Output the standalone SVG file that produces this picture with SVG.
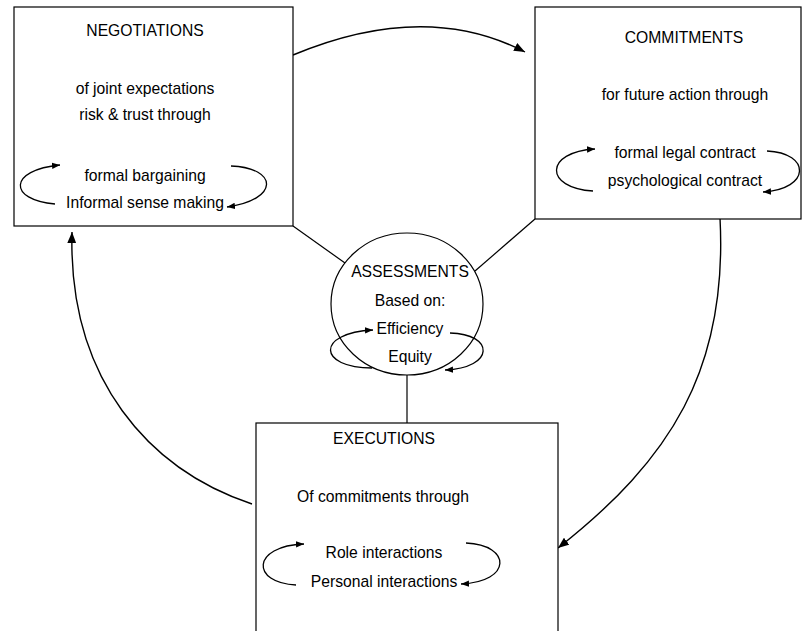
<svg xmlns="http://www.w3.org/2000/svg" width="802" height="631" viewBox="0 0 802 631">
<style>
text{font-family:"Liberation Sans",Arial,sans-serif;font-size:15.7px;fill:#000;text-anchor:middle}
.box{fill:#fff;stroke:#000;stroke-width:1.2}
.ln{fill:none;stroke:#000;stroke-width:1.2}
.big{fill:none;stroke:#000;stroke-width:1.4;marker-end:url(#ah)}
.loop{fill:none;stroke:#000;stroke-width:1.3;marker-end:url(#as)}
</style>
<defs>
<marker id="ah" viewBox="0 0 10 8" refX="10" refY="4" markerWidth="11" markerHeight="9" markerUnits="userSpaceOnUse" orient="auto"><path d="M0,0 L10,4 L0,8 z" fill="#000"/></marker>
<marker id="as" viewBox="0 0 10 8" refX="10" refY="4" markerWidth="8" markerHeight="6.5" markerUnits="userSpaceOnUse" orient="auto"><path d="M0,0 L10,4 L0,8 z" fill="#000"/></marker>
</defs>
<g id="connectors">
<path class="big" d="M293,55 Q425,0 525,52"/>
<path class="big" d="M720,218 C728,370 670,460 558,548"/>
<path class="big" d="M252,504 C150,470 68,380 72,232"/>
<line class="ln" x1="293" y1="226" x2="345" y2="263"/>
<line class="ln" x1="535" y1="219" x2="475" y2="271"/>
<line class="ln" x1="407" y1="375" x2="407" y2="423"/>
</g>
<g id="negotiations">
<rect class="box" x="14" y="7" width="279" height="219"/>
<text x="145" y="36">NEGOTIATIONS</text>
<text x="145" y="94">of joint expectations</text>
<text x="145" y="120">risk &amp; trust through</text>
<text x="145" y="181">formal bargaining</text>
<text x="145" y="208">Informal sense making</text>
<path class="loop" d="M55,204 C8,200 8,170 60,165"/>
<path class="loop" d="M231,166 C279,168 279,200 227,207"/>
</g>
<g id="commitments">
<rect class="box" x="535" y="7" width="266" height="212"/>
<text x="684" y="43">COMMITMENTS</text>
<text x="685" y="100">for future action through</text>
<text x="685" y="158">formal legal contract</text>
<text x="685" y="186">psychological contract</text>
<path class="loop" d="M593,191 C544,188 544,152 595,149"/>
<path class="loop" d="M767,151 C811,153 811,189 763,192"/>
</g>
<g id="assessments">
<ellipse class="box" cx="407" cy="304" rx="76" ry="71"/>
<text x="410" y="277">ASSESSMENTS</text>
<text x="410" y="306">Based on:</text>
<text x="410" y="334">Efficiency</text>
<text x="410" y="362">Equity</text>
<path class="loop" d="M372,368 C318,368 315,333 373,330"/>
<path class="loop" d="M450,333 C495,334 495,368 445,370"/>
</g>
<g id="executions">
<rect class="box" x="256" y="423" width="302" height="220"/>
<text x="384" y="444">EXECUTIONS</text>
<text x="383" y="502">Of commitments through</text>
<text x="384" y="558">Role interactions</text>
<text x="384" y="587">Personal interactions</text>
<path class="loop" d="M296,585 C251,583 251,546 304,544"/>
<path class="loop" d="M466,543 C512,545 512,582 461,584"/>
</g>
</svg>
